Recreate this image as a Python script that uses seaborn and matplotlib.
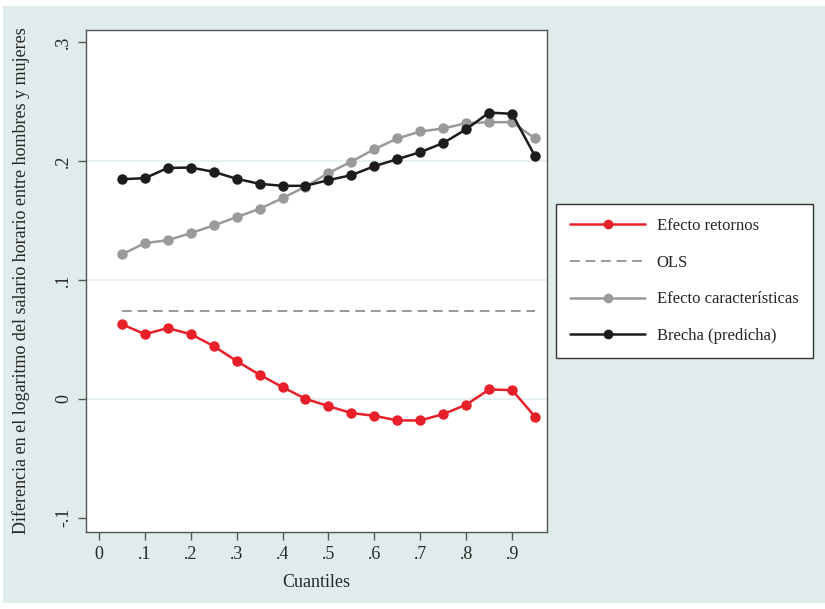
import matplotlib
matplotlib.use("Agg")
import matplotlib.pyplot as plt
import seaborn as sns
import pandas as pd
from matplotlib.patches import Rectangle

cuantiles = [0.05, 0.10, 0.15, 0.20, 0.25, 0.30, 0.35, 0.40, 0.45, 0.50,
             0.55, 0.60, 0.65, 0.70, 0.75, 0.80, 0.85, 0.90, 0.95]
efecto_retornos = [0.0627, 0.0543, 0.0594, 0.0543, 0.0443, 0.0317, 0.0202, 0.0098, 0.0000, -0.0062,
                   -0.0120, -0.0143, -0.0182, -0.0182, -0.0129, -0.0050, 0.0078, 0.0073, -0.0151]
efecto_caract = [0.1213, 0.1308, 0.1333, 0.1392, 0.1457, 0.1527, 0.1597, 0.1686, 0.1784, 0.1897,
                 0.1994, 0.2098, 0.2188, 0.2247, 0.2272, 0.2317, 0.2325, 0.2325, 0.2188]
brecha = [0.1846, 0.1854, 0.1940, 0.1944, 0.1908, 0.1849, 0.1807, 0.1790, 0.1790, 0.1838,
          0.1880, 0.1955, 0.2014, 0.2073, 0.2150, 0.2266, 0.2406, 0.2395, 0.2040]
ols_x = [0.05, 0.95]
ols_y = [0.0739, 0.0739]

x_ticks = [0, 0.1, 0.2, 0.3, 0.4, 0.5, 0.6, 0.7, 0.8, 0.9]
x_labels = ["0", ".1", ".2", ".3", ".4", ".5", ".6", ".7", ".8", ".9"]
y_ticks = [-0.1, 0, 0.1, 0.2, 0.3]
y_labels = ["-.1", "0", ".1", ".2", ".3"]

sns.set_theme(style="white")
plt.rcParams['font.family'] = ['Liberation Serif', 'DejaVu Serif']

BG = "#DFECEB"
fig = plt.figure(figsize=(8.25, 6.09), dpi=100)
fig.patch.set_facecolor("white")
fig.patches.append(Rectangle((3/825, 6/609), 822/825, 597/609, transform=fig.transFigure,
                             facecolor=BG, edgecolor="none", zorder=-10))

ax = fig.add_axes([86/825, 1 - 532/609, (547 - 86)/825, (532 - 30)/609])
ax.set_facecolor("white")

for yv in [0, 0.1, 0.2]:
    ax.axhline(yv, color="#E2EEEE", lw=1.2, zorder=0)

df = pd.DataFrame({"q": cuantiles, "ret": efecto_retornos, "car": efecto_caract, "bre": brecha})

ms = 7.5
lw = 1.8
sns.lineplot(data=df, x="q", y="ret", ax=ax, color="#E8202A", marker="o", markersize=ms,
             markeredgewidth=0, lw=lw, label="Efecto retornos")
sns.lineplot(x=ols_x, y=ols_y, ax=ax, color="#999999", lw=1.4, dashes=False,
             linestyle=(0, (5, 3)), label="OLS")
sns.lineplot(data=df, x="q", y="car", ax=ax, color="#9A9A9C", marker="o", markersize=ms,
             markeredgewidth=0, lw=lw, label="Efecto características")
sns.lineplot(data=df, x="q", y="bre", ax=ax, color="#1C1C1C", marker="o", markersize=ms,
             markeredgewidth=0, lw=lw, label="Brecha (predicha)")

ax.set_xlim(-0.028, 0.976)
ax.set_ylim(-0.112, 0.31)
ax.set_xticks(x_ticks)
ax.set_xticklabels(x_labels, fontsize=13)
ax.set_yticks(y_ticks)
ax.set_yticklabels(y_labels, fontsize=13, rotation=90, va="center")
ax.tick_params(axis="both", direction="out", length=6, width=1, color="#555555",
               left=True, bottom=True, pad=4)
for s in ax.spines.values():
    s.set_color("#555555")
    s.set_linewidth(1.0)

ax.set_xlabel("Cuantiles", fontsize=13, labelpad=8)
ax.set_ylabel("Diferencia en el logaritmo del salario horario entre hombres y mujeres",
              fontsize=13, labelpad=18)

leg = ax.legend(loc="upper left", bbox_to_anchor=(556/825, 1 - 204/609),
                bbox_transform=fig.transFigure, fontsize=12, frameon=True,
                fancybox=False, edgecolor="#333333", framealpha=1, handlelength=4.5,
                labelspacing=1.24, borderpad=0.85, handletextpad=0.7, borderaxespad=0)
leg.get_frame().set_linewidth(1.0)
for h in leg.get_lines():
    h.set_markersize(7)

fig.savefig("out.png", dpi=100, facecolor=fig.get_facecolor())
